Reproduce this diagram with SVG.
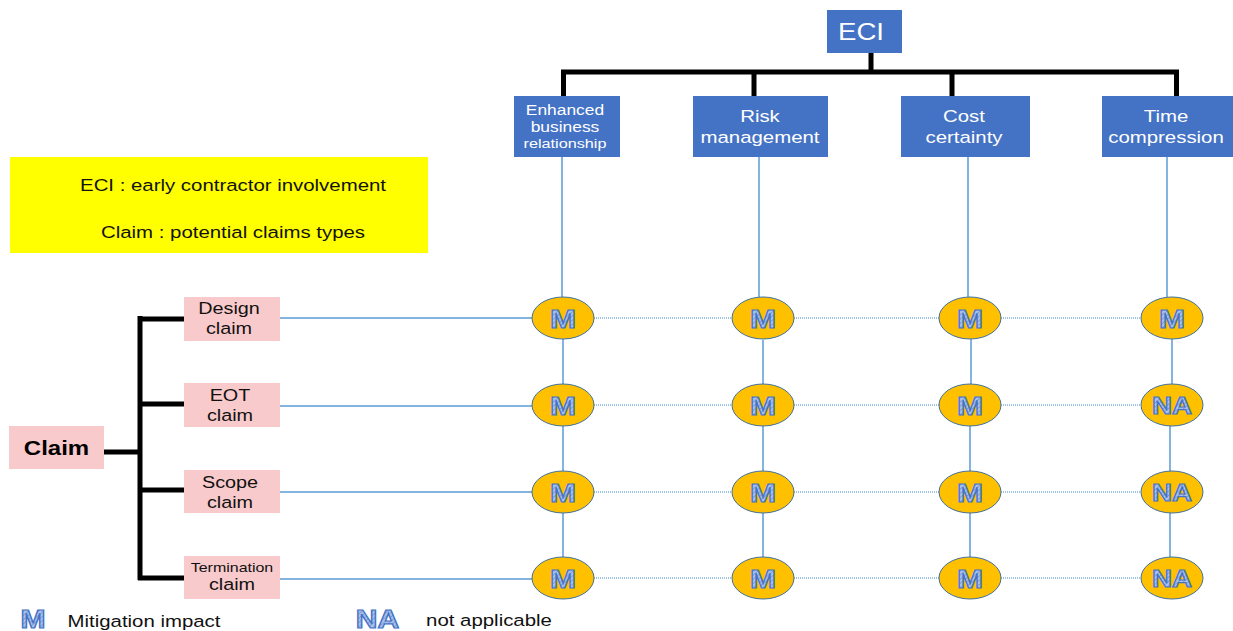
<svg xmlns="http://www.w3.org/2000/svg" width="1233" height="631" viewBox="0 0 1233 631">
<defs>
<pattern id="hatch" width="3" height="3" patternUnits="userSpaceOnUse" patternTransform="rotate(45)">
<rect width="3" height="3" fill="#A9C1EA"/>
<line x1="0" y1="0" x2="0" y2="3" stroke="#6E8FD0" stroke-width="1.2"/>
</pattern>
<style>
text{font-family:"Liberation Sans",Arial,sans-serif;text-anchor:middle}
.blue{fill:#4472C4}
.wt{fill:#FFFFFF}
.pink{fill:#F9CACB}
.blk{stroke:#000;stroke-width:5;fill:none}
.sol{stroke:#5B9BD5;stroke-width:1.5;fill:none}
.dot{stroke:#5B9BD5;stroke-width:1.5;stroke-dasharray:1 1;fill:none;opacity:0.8}
.ell{fill:#FFC000;stroke:#41719C;stroke-width:1}
.lt{font-weight:bold;fill:url(#hatch);stroke:#4472C4;stroke-width:1.2}
.m{font-size:26px}
.na{font-size:23px}
</style>
</defs>
<rect width="1233" height="631" fill="#FFFFFF"/>

<g id="connectors">
<path class="blk" d="M871 52V72M561 72H1179M563.5 72V96M754 72V96M952 72V96M1176.5 72V96"/>
<path class="blk" d="M104 452H140M140 316V580M138 319H184M140 404H184M140 490H184M138 578H184"/>
<path class="sol" d="M562 157V297M563 339V384M563 426V471M563 513V557"/>
<path class="sol" d="M759 157V297M763 340V384M763 426V471M763 513V557"/>
<path class="sol" d="M968 157V297M971 339V384M970 426V471M970 513V557"/>
<path class="sol" d="M1167 157V297M1172 339V384M1170 426V471M1170 513V557"/>
<path class="sol" d="M278 318H532M275 406H532M275 492H532M275 579H532"/>
<path class="dot" d="M594 318H732M794 318H939M1001 318H1141"/>
<path class="dot" d="M594 405H732M794 405H939M1001 405H1141"/>
<path class="dot" d="M594 492H732M794 492H939M1001 492H1141"/>
<path class="dot" d="M594 578H732M794 578H939M1001 578H1141"/>
</g>

<g id="eci">
<rect class="blue" x="827" y="10" width="75" height="43"/>
<text class="wt" transform="translate(861 40) scale(1.2 1)" font-size="23">ECI</text>
</g>
<g id="enhanced">
<rect class="blue" x="514" y="96" width="106" height="61"/>
<text class="wt" transform="translate(565 115) scale(1.2 1)" font-size="14.5"><tspan x="0" y="0">Enhanced</tspan><tspan x="0" y="17">business</tspan><tspan x="0" y="33" font-size="13.5">relationship</tspan></text>
</g>
<g id="risk">
<rect class="blue" x="693" y="96" width="135" height="61"/>
<text class="wt" transform="translate(760 122) scale(1.2 1)" font-size="17"><tspan x="0" y="0">Risk</tspan><tspan x="0" y="21">management</tspan></text>
</g>
<g id="cost">
<rect class="blue" x="901" y="96" width="129" height="61"/>
<text class="wt" transform="translate(964 122) scale(1.2 1)" font-size="17"><tspan x="0" y="0">Cost</tspan><tspan x="0" y="21">certainty</tspan></text>
</g>
<g id="time">
<rect class="blue" x="1102" y="96" width="131" height="61"/>
<text class="wt" transform="translate(1166 122) scale(1.2 1)" font-size="17"><tspan x="0" y="0">Time</tspan><tspan x="0" y="21">compression</tspan></text>
</g>

<g id="legend-box">
<rect x="10" y="157" width="418" height="96" fill="#FFFF00"/>
<text transform="translate(233 191) scale(1.2 1)" font-size="17" fill="#111">ECI : early contractor involvement</text>
<text transform="translate(233 238) scale(1.2 1)" font-size="17" fill="#111">Claim : potential claims types</text>
</g>

<g id="claim">
<rect class="pink" x="9" y="426" width="95" height="43"/>
<text transform="translate(56.5 455) scale(1.2 1)" font-size="20" font-weight="bold" fill="#000">Claim</text>
</g>
<g id="design-claim">
<rect class="pink" x="184" y="297" width="96" height="44"/>
<text transform="translate(229 314) scale(1.2 1)" font-size="16.5" fill="#111"><tspan x="0" y="0">Design</tspan><tspan x="0" y="20">claim</tspan></text>
</g>
<g id="eot-claim">
<rect class="pink" x="184" y="383" width="96" height="44"/>
<text transform="translate(230 401) scale(1.2 1)" font-size="16.5" fill="#111"><tspan x="0" y="0">EOT</tspan><tspan x="0" y="20">claim</tspan></text>
</g>
<g id="scope-claim">
<rect class="pink" x="184" y="470" width="96" height="43"/>
<text transform="translate(230 488) scale(1.2 1)" font-size="16.5" fill="#111"><tspan x="0" y="0">Scope</tspan><tspan x="0" y="20">claim</tspan></text>
</g>
<g id="termination-claim">
<rect class="pink" x="184" y="556" width="96" height="43"/>
<text transform="translate(232 572) scale(1.2 1)" fill="#111"><tspan x="0" y="0" font-size="13.3">Termination</tspan><tspan x="0" y="18" font-size="16.5">claim</tspan></text>
</g>

<g id="r1c1"><ellipse class="ell" cx="563" cy="318" rx="31" ry="21"/><text class="lt m" transform="translate(563 327.5) scale(1.2 1)">M</text></g>
<g id="r1c2"><ellipse class="ell" cx="763" cy="318" rx="31" ry="21"/><text class="lt m" transform="translate(763 327.5) scale(1.2 1)">M</text></g>
<g id="r1c3"><ellipse class="ell" cx="970" cy="318" rx="31" ry="21"/><text class="lt m" transform="translate(970 327.5) scale(1.2 1)">M</text></g>
<g id="r1c4"><ellipse class="ell" cx="1172" cy="318" rx="31" ry="21"/><text class="lt m" transform="translate(1172 327.5) scale(1.2 1)">M</text></g>
<g id="r2c1"><ellipse class="ell" cx="563" cy="405" rx="31" ry="21"/><text class="lt m" transform="translate(563 414.5) scale(1.2 1)">M</text></g>
<g id="r2c2"><ellipse class="ell" cx="763" cy="405" rx="31" ry="21"/><text class="lt m" transform="translate(763 414.5) scale(1.2 1)">M</text></g>
<g id="r2c3"><ellipse class="ell" cx="970" cy="405" rx="31" ry="21"/><text class="lt m" transform="translate(970 414.5) scale(1.2 1)">M</text></g>
<g id="r2c4"><ellipse class="ell" cx="1172" cy="405" rx="31" ry="21"/><text class="lt na" transform="translate(1172 413.5) scale(1.2 1)">NA</text></g>
<g id="r3c1"><ellipse class="ell" cx="563" cy="492" rx="31" ry="21"/><text class="lt m" transform="translate(563 501.5) scale(1.2 1)">M</text></g>
<g id="r3c2"><ellipse class="ell" cx="763" cy="492" rx="31" ry="21"/><text class="lt m" transform="translate(763 501.5) scale(1.2 1)">M</text></g>
<g id="r3c3"><ellipse class="ell" cx="970" cy="492" rx="31" ry="21"/><text class="lt m" transform="translate(970 501.5) scale(1.2 1)">M</text></g>
<g id="r3c4"><ellipse class="ell" cx="1172" cy="492" rx="31" ry="21"/><text class="lt na" transform="translate(1172 500.5) scale(1.2 1)">NA</text></g>
<g id="r4c1"><ellipse class="ell" cx="563" cy="578" rx="31" ry="21"/><text class="lt m" transform="translate(563 587.5) scale(1.2 1)">M</text></g>
<g id="r4c2"><ellipse class="ell" cx="763" cy="578" rx="31" ry="21"/><text class="lt m" transform="translate(763 587.5) scale(1.2 1)">M</text></g>
<g id="r4c3"><ellipse class="ell" cx="970" cy="578" rx="31" ry="21"/><text class="lt m" transform="translate(970 587.5) scale(1.2 1)">M</text></g>
<g id="r4c4"><ellipse class="ell" cx="1172" cy="578" rx="31" ry="21"/><text class="lt na" transform="translate(1172 586.5) scale(1.2 1)">NA</text></g>

<g id="legend">
<text class="lt" transform="translate(33 628) scale(1.2 1)" font-size="25">M</text>
<text transform="translate(144 627) scale(1.2 1)" font-size="17" fill="#111">Mitigation impact</text>
<text class="lt" transform="translate(377.5 627.5) scale(1.2 1)" font-size="25">NA</text>
<text transform="translate(489 626) scale(1.2 1)" font-size="17" fill="#111">not applicable</text>
</g>
</svg>
